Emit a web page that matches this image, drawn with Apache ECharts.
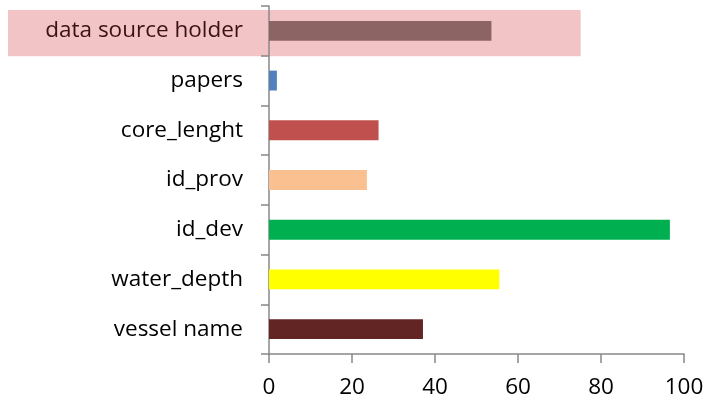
<!DOCTYPE html>
<html>
<head>
<meta charset="utf-8">
<script src="https://cdn.jsdelivr.net/npm/echarts@6/dist/echarts.min.js"></script>
<style>
html,body{margin:0;padding:0;background:#fff;}
#chart{width:708px;height:403px;}
</style>
</head>
<body>
<div id="chart"></div>
<script>
const categories = ['vessel name', 'water_depth', 'id_dev', 'id_prov', 'core_lenght', 'papers', 'data source holder'];
const values = [37.1, 55.5, 96.6, 23.6, 26.4, 1.9, 53.6];
const barColors = ['#632523', '#FFFF00', '#00B050', '#FAC090', '#C0504D', '#4F81BD', '#8C6464'];
const xTicks = [0, 20, 40, 60, 80, 100];
const highlightCategory = 'data source holder';
const highlightEnd = 75.1;

const chart = echarts.init(document.getElementById('chart'));
const font = 'Open Sans';
chart.setOption({
  animation: false,
  grid: { left: 269, right: 24, top: 6, bottom: 49, containLabel: false },
  xAxis: {
    type: 'value', min: xTicks[0], max: xTicks[xTicks.length - 1], interval: xTicks[1] - xTicks[0],
    splitLine: { show: false },
    axisLine: { show: true, lineStyle: { color: '#888', width: 1.5 } },
    axisTick: { show: true, length: 9, inside: false, lineStyle: { color: '#888', width: 1.5 } },
    axisLabel: { color: '#000', fontFamily: font, fontSize: 22.5, margin: 22 }
  },
  yAxis: {
    type: 'category', data: categories,
    axisLine: { show: true, lineStyle: { color: '#888', width: 1.5 } },
    axisTick: { show: true, length: 8, lineStyle: { color: '#888', width: 1.5 } },
    axisLabel: {
      fontFamily: font, fontSize: 22.5, margin: 26,
      color: function (v) { return v === highlightCategory ? '#3a1214' : '#000'; }
    }
  },
  series: [{
    type: 'bar',
    barWidth: '40%',
    data: values.map((v, i) => ({ value: v, itemStyle: { color: barColors[i] } }))
  }]
});

function drawHighlight() {
  const yAxisModel = chart.getModel().getComponent('yAxis', 0);
  const axis = yAxisModel.axis;
  const bw = axis.getBandWidth();
  const p0 = chart.convertToPixel({ gridIndex: 0 }, [highlightEnd, highlightCategory]);
  const top = p0[1] - bw / 2 + 4;
  chart.setOption({
    graphic: [{
      type: 'rect', z: -10, silent: true,
      shape: { x: 8, y: top, width: p0[0] - 8, height: bw * 0.93 },
      style: { fill: '#F2C4C6' }
    }]
  });
}
drawHighlight();
</script>
</body>
</html>
